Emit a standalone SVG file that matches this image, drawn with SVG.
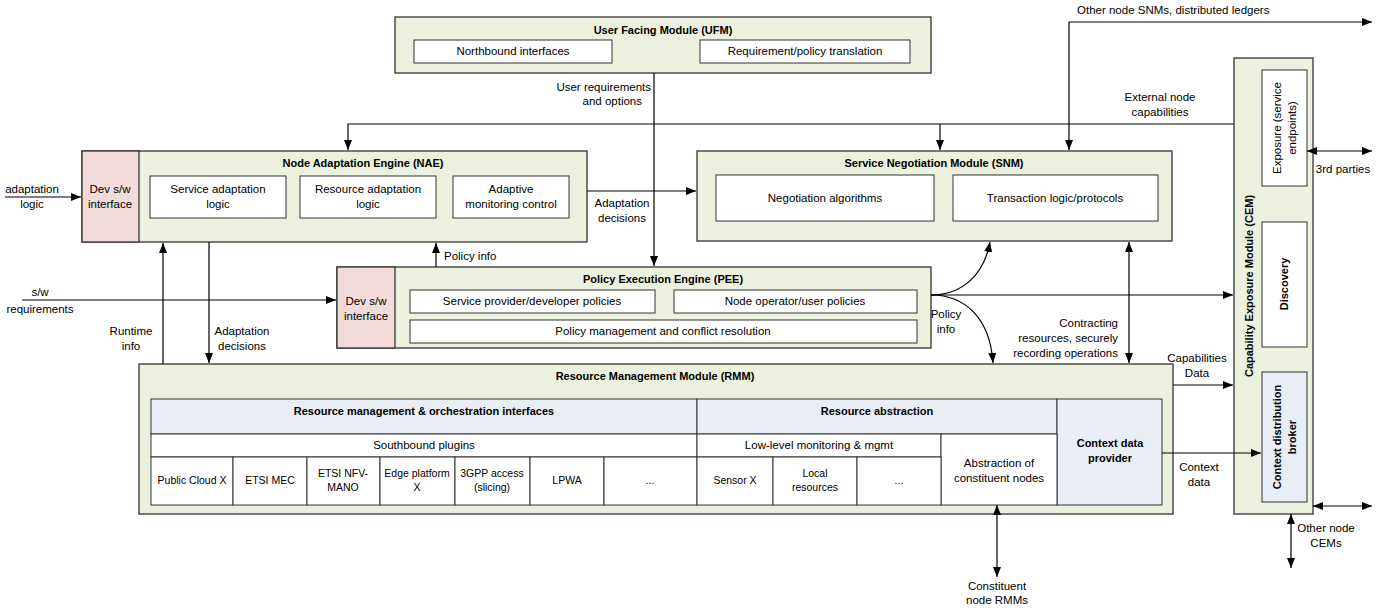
<svg xmlns="http://www.w3.org/2000/svg" width="1391" height="612" viewBox="0 0 1391 612">
<style>
text{font-family:"Liberation Sans",Arial,sans-serif;font-size:11.5px;fill:#000}
.b{font-weight:bold;font-size:11px}
.m{text-anchor:middle}
.e{text-anchor:end}
.s{font-size:10.5px}
.mod{fill:#ebf1de;stroke:#333;stroke-width:1.3}
.dev{fill:#f2dcdb;stroke:#333;stroke-width:1.3}
.box{fill:#fff;stroke:#333;stroke-width:1}
.hdr{fill:#e9edf5;stroke:#333;stroke-width:1}
.ln{fill:none;stroke:#000;stroke-width:1.2}
</style>
<defs>
<marker id="ah" markerWidth="10" markerHeight="8" refX="10" refY="4" orient="auto" markerUnits="userSpaceOnUse"><path d="M0,0 L10,4 L0,8 Z" fill="#000"/></marker>
<marker id="as" markerWidth="10" markerHeight="8" refX="0" refY="4" orient="auto" markerUnits="userSpaceOnUse"><path d="M10,0 L0,4 L10,8 Z" fill="#000"/></marker>
</defs>

<g id="ufm">
<rect class="mod" x="395" y="17" width="536" height="56"/>
<text class="b m" x="663" y="34">User Facing Module (UFM)</text>
<rect class="box" x="414" y="40" width="198" height="23"/>
<text class="m" x="513" y="55">Northbound interfaces</text>
<rect class="box" x="700" y="40" width="210" height="23"/>
<text class="m" x="805" y="55">Requirement/policy translation</text>
</g>

<g id="nae">
<rect class="mod" x="82" y="151" width="505" height="91"/>
<rect class="dev" x="82" y="151" width="57" height="91"/>
<text class="m" x="110" y="193">Dev s/w</text>
<text class="m" x="110" y="208">interface</text>
<text class="b m" x="363" y="167">Node Adaptation Engine (NAE)</text>
<rect class="box" x="150" y="176" width="136" height="42"/>
<text class="m" x="218" y="193">Service adaptation</text>
<text class="m" x="218" y="208">logic</text>
<rect class="box" x="300" y="176" width="136" height="42"/>
<text class="m" x="368" y="193">Resource adaptation</text>
<text class="m" x="368" y="208">logic</text>
<rect class="box" x="453" y="176" width="116" height="42"/>
<text class="m" x="511" y="193">Adaptive</text>
<text class="m" x="511" y="208">monitoring control</text>
</g>

<g id="snm">
<rect class="mod" x="697" y="151" width="475" height="90"/>
<text class="b m" x="934" y="167">Service Negotiation Module (SNM)</text>
<rect class="box" x="716" y="175" width="218" height="46"/>
<text class="m" x="825" y="202">Negotiation algorithms</text>
<rect class="box" x="953" y="175" width="205" height="46"/>
<text class="m" x="1055" y="202">Transaction logic/protocols</text>
</g>

<g id="pee">
<rect class="mod" x="337" y="267" width="594" height="81"/>
<rect class="dev" x="337" y="267" width="58" height="81"/>
<text class="m" x="366" y="305">Dev s/w</text>
<text class="m" x="366" y="320">interface</text>
<text class="b m" x="663" y="283">Policy Execution Engine (PEE)</text>
<rect class="box" x="410" y="290" width="245" height="23"/>
<text class="m" x="532" y="305">Service provider/developer policies</text>
<rect class="box" x="674" y="290" width="243" height="23"/>
<text class="m" x="795" y="305">Node operator/user policies</text>
<rect class="box" x="410" y="320" width="507" height="23"/>
<text class="m" x="663" y="335">Policy management and conflict resolution</text>
</g>

<g id="rmm">
<rect class="mod" x="139" y="364" width="1034" height="150"/>
<text class="b m" x="655" y="380">Resource Management Module (RMM)</text>
<rect class="hdr" x="151" y="399" width="546" height="35"/>
<text class="b m" x="424" y="415">Resource management &amp; orchestration interfaces</text>
<rect class="hdr" x="697" y="399" width="360" height="35"/>
<text class="b m" x="877" y="415">Resource abstraction</text>
<rect class="hdr" x="1057" y="399" width="105" height="106"/>
<text class="b m" x="1110" y="447">Context data</text>
<text class="b m" x="1110" y="462">provider</text>
<rect class="box" x="151" y="434" width="546" height="23"/>
<text class="m" x="424" y="449">Southbound plugins</text>
<rect class="box" x="697" y="434" width="244" height="23"/>
<text class="m" x="819" y="449">Low-level monitoring &amp; mgmt</text>
<rect class="box" x="941" y="434" width="116" height="71"/>
<text class="m" x="999" y="467">Abstraction of</text>
<text class="m" x="999" y="482">constituent nodes</text>
<rect class="box" x="151" y="457" width="82" height="48"/>
<text class="m s" x="192" y="484">Public Cloud X</text>
<rect class="box" x="233" y="457" width="74" height="48"/>
<text class="m s" x="270" y="484">ETSI MEC</text>
<rect class="box" x="307" y="457" width="73" height="48"/>
<text class="m s" x="343" y="477">ETSI NFV-</text>
<text class="m s" x="343" y="491">MANO</text>
<rect class="box" x="380" y="457" width="75" height="48"/>
<text class="m s" x="417" y="477">Edge platform</text>
<text class="m s" x="417" y="491">X</text>
<rect class="box" x="455" y="457" width="75" height="48"/>
<text class="m s" x="492" y="477">3GPP access</text>
<text class="m s" x="492" y="491">(slicing)</text>
<rect class="box" x="530" y="457" width="74" height="48"/>
<text class="m s" x="567" y="484">LPWA</text>
<rect class="box" x="604" y="457" width="93" height="48"/>
<text class="m s" x="650" y="484">...</text>
<rect class="box" x="697" y="457" width="76" height="48"/>
<text class="m s" x="735" y="484">Sensor X</text>
<rect class="box" x="773" y="457" width="84" height="48"/>
<text class="m s" x="815" y="477">Local</text>
<text class="m s" x="815" y="491">resources</text>
<rect class="box" x="857" y="457" width="84" height="48"/>
<text class="m s" x="899" y="484">...</text>
</g>

<g id="cem">
<rect class="mod" x="1234" y="58" width="79" height="456"/>
<text class="b m" transform="translate(1253,286) rotate(-90)">Capability Exposure Module (CEM)</text>
<rect class="box" x="1262" y="70" width="45" height="116"/>
<text class="m" transform="translate(1281,128) rotate(-90)">Exposure (service</text>
<text class="m" transform="translate(1296,128) rotate(-90)">endpoints)</text>
<rect class="box" x="1262" y="222" width="45" height="125"/>
<text class="b m" transform="translate(1288,284) rotate(-90)">Discovery</text>
<rect class="hdr" x="1262" y="372" width="45" height="130"/>
<text class="b m" transform="translate(1281,437) rotate(-90)">Context distribution</text>
<text class="b m" transform="translate(1296,437) rotate(-90)">broker</text>
</g>

<g id="connectors">
<path class="ln" d="M654,73 V266" marker-end="url(#ah)"/>
<text class="e" x="651" y="91">User requirements</text>
<text class="e" x="642" y="105">and options</text>
<path class="ln" d="M1234,124 H348 V150" marker-end="url(#ah)"/>
<path class="ln" d="M940,124 V150" marker-end="url(#ah)"/>
<text class="m" x="1160" y="101">External node</text>
<text class="m" x="1160" y="116">capabilities</text>
<path class="ln" d="M1069,150 V22 H1372" marker-start="url(#as)" marker-end="url(#ah)"/>
<text x="1077" y="14">Other node SNMs, distributed ledgers</text>
<path class="ln" d="M5,197 H81" marker-end="url(#ah)"/>
<text class="m" x="32" y="193">adaptation</text>
<text class="m" x="32" y="208">logic</text>
<path class="ln" d="M587,191 H696" marker-end="url(#ah)"/>
<text class="m" x="622" y="207">Adaptation</text>
<text class="m" x="622" y="222">decisions</text>
<path class="ln" d="M436,267 V243" marker-end="url(#ah)"/>
<text x="444" y="260">Policy info</text>
<path class="ln" d="M22,300 H336" marker-end="url(#ah)"/>
<text class="m" x="40" y="296">s/w</text>
<text class="m" x="40" y="313">requirements</text>
<path class="ln" d="M163,364 V243" marker-end="url(#ah)"/>
<text class="m" x="131" y="335">Runtime</text>
<text class="m" x="131" y="350">info</text>
<path class="ln" d="M209,242 V363" marker-end="url(#ah)"/>
<text class="m" x="242" y="335">Adaptation</text>
<text class="m" x="242" y="350">decisions</text>
<path class="ln" d="M931,295 C962,295 984,275 990,242" marker-end="url(#ah)"/>
<path class="ln" d="M931,295 H1233" marker-end="url(#ah)"/>
<path class="ln" d="M931,295 C965,295 990,318 993,363" marker-end="url(#ah)"/>
<text class="m" x="946" y="318">Policy</text>
<text class="m" x="946" y="333">info</text>
<path class="ln" d="M1129,242 V363" marker-start="url(#as)" marker-end="url(#ah)"/>
<text class="e" x="1118" y="327">Contracting</text>
<text class="e" x="1118" y="342">resources, securely</text>
<text class="e" x="1118" y="357">recording operations</text>
<path class="ln" d="M1173,385 H1233" marker-end="url(#ah)"/>
<text class="m" x="1197" y="362">Capabilities</text>
<text class="m" x="1197" y="377">Data</text>
<path class="ln" d="M1162,453 H1261" marker-end="url(#ah)"/>
<text class="m" x="1199" y="471">Context</text>
<text class="m" x="1199" y="486">data</text>
<path class="ln" d="M997,505 V577" marker-start="url(#as)" marker-end="url(#ah)"/>
<text class="m" x="997" y="590">Constituent</text>
<text class="m" x="997" y="604">node RMMs</text>
<path class="ln" d="M1307,151 H1372" marker-start="url(#as)" marker-end="url(#ah)"/>
<text class="m" x="1343" y="173">3rd parties</text>
<path class="ln" d="M1313,506 H1372" marker-start="url(#as)" marker-end="url(#ah)"/>
<path class="ln" d="M1291,514 V568" marker-start="url(#as)" marker-end="url(#ah)"/>
<text class="m" x="1326" y="532">Other node</text>
<text class="m" x="1326" y="547">CEMs</text>
</g>
</svg>
